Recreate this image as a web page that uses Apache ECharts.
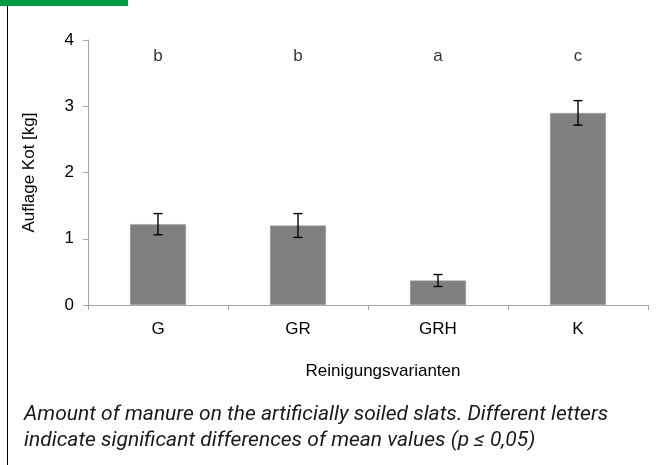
<!DOCTYPE html>
<html>
<head>
<meta charset="utf-8">
<script src="https://cdn.jsdelivr.net/npm/echarts@6/dist/echarts.min.js"></script>
<style>
  html, body { margin: 0; padding: 0; background: #fff; }
  #chart { width: 656px; height: 465px; }
</style>
</head>
<body>
<div id="chart"></div>
<script>
// Reinigungsvarianten
var categories = ["G", "GR", "GRH", "K"];
// Auflage Kot [kg], mean values
var means = [1.22, 1.2, 0.37, 2.9];
// error bar half-width
var errors = [0.16, 0.18, 0.09, 0.185];
// significance letters
var letters = ["b", "b", "a", "c"];
var letterLevel = 3.76;

var FONT = "Liberation Sans";
var myChart = echarts.init(document.getElementById("chart"));

var errData = categories.map(function (c, i) {
  return [i, means[i] - errors[i], means[i] + errors[i]];
});
var letterData = categories.map(function (c, i) {
  return [i, letterLevel, letters[i]];
});

var option = {
  animation: false,
  textStyle: { fontFamily: FONT },
  graphic: [
    { type: "rect", shape: { x: 0, y: 0, width: 128, height: 6 }, style: { fill: "#009a44" } },
    { type: "line", shape: { x1: 7.5, y1: 6, x2: 7.5, y2: 465 }, style: { stroke: "#000", lineWidth: 1 } },
    {
      type: "text", left: 24, top: 402,
      style: {
        text: "Amount of manure on the artificially soiled slats. Different letters\nindicate significant differences of mean values (p \u2264 0,05)",
        font: "italic 21px Roboto", fill: "#1a1a1a", lineHeight: 26
      }
    }
  ],
  grid: { left: 88, right: 8, top: 40, bottom: 160 },
  xAxis: {
    type: "category",
    data: categories,
    name: "Reinigungsvarianten",
    nameLocation: "middle",
    nameGap: 58,
    nameTextStyle: { color: "#000", fontSize: 17, fontFamily: FONT, padding: [0, 0, 0, 30] },
    axisLine: { lineStyle: { color: "#a6a6a6" } },
    axisTick: { show: true, alignWithLabel: false, length: 5, lineStyle: { color: "#a6a6a6" } },
    axisLabel: { color: "#000", fontSize: 17, fontFamily: FONT, margin: 16 }
  },
  yAxis: {
    type: "value",
    min: 0,
    max: 4,
    interval: 1,
    name: "Auflage Kot [kg]",
    nameLocation: "middle",
    nameGap: 50,
    nameTextStyle: { color: "#000", fontSize: 17, fontFamily: FONT, padding: [0, 0, 0, 0] },
    axisLine: { show: true, lineStyle: { color: "#a6a6a6" } },
    axisTick: { show: true, length: 5, lineStyle: { color: "#a6a6a6" } },
    axisLabel: { color: "#000", fontSize: 17, fontFamily: FONT, margin: 14 },
    splitLine: { show: false }
  },
  series: [
    {
      type: "bar",
      data: means,
      barWidth: "40%",
      itemStyle: { color: "#808080", borderColor: "#a0a0a0", borderWidth: 0.5 }
    },
    {
      type: "custom",
      data: errData,
      renderItem: function (params, api) {
        var x = api.coord([api.value(0), api.value(1)])[0];
        var lo = api.coord([api.value(0), api.value(1)])[1];
        var hi = api.coord([api.value(0), api.value(2)])[1];
        var w = 4.5;
        var st = { stroke: "#000", lineWidth: 1.4 };
        return {
          type: "group",
          children: [
            { type: "line", shape: { x1: x, y1: lo, x2: x, y2: hi }, style: st },
            { type: "line", shape: { x1: x - w, y1: lo, x2: x + w, y2: lo }, style: st },
            { type: "line", shape: { x1: x - w, y1: hi, x2: x + w, y2: hi }, style: st }
          ]
        };
      },
      z: 5
    },
    {
      type: "scatter",
      data: letterData,
      symbolSize: 0,
      label: {
        show: true,
        position: "inside",
        color: "#000",
        fontSize: 17,
        fontFamily: FONT,
        formatter: function (p) { return p.value[2]; }
      }
    }
  ]
};
myChart.setOption(option);
</script>
</body>
</html>
